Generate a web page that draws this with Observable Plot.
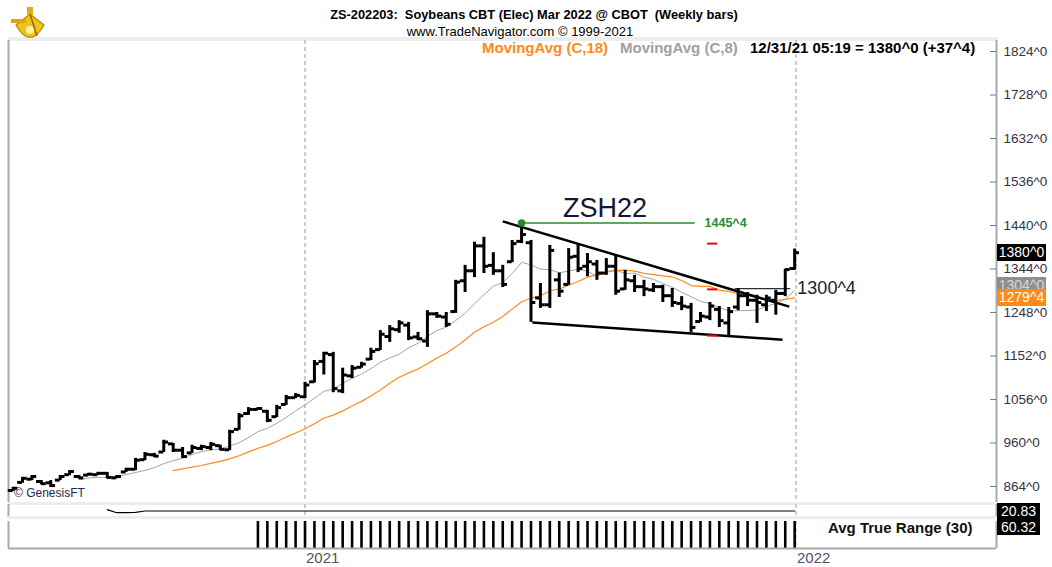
<!DOCTYPE html>
<html><head><meta charset="utf-8">
<script src="https://cdn.jsdelivr.net/npm/d3@7"></script>
<script src="https://cdn.jsdelivr.net/npm/@observablehq/plot@0.6"></script>
<style>
body{margin:0;background:#fff;font-family:"Liberation Sans",Arial,sans-serif;}
#wrap{position:relative;width:1052px;height:567px;overflow:hidden;background:#fff;}
.abs{position:absolute;white-space:pre;line-height:0;}
.lbl{position:absolute;white-space:pre;}
.tag{position:absolute;left:997px;width:49px;height:17px;line-height:17px;font-size:14px;text-align:center;color:#fff;}
</style></head><body><div id="wrap"></div>
<script>
// ---- weekly OHLC bars, ZSH22 (cents), week ending Fridays 2020-05-29 .. 2021-12-31
const firstFriday = "2020-05-29", endStop = "2022-01-01";
const opens = [855,873,880,875,872,878,890,886,889,890,
  893,883,896,902,923,934,940,958,944,938,
  948,950,954,945,990,1025,1034,1030,1018,1045,
  1060,1062,1095,1140,1155,1075,1108,1127,1145,1166,
  1195,1210,1220,1194,1185,1245,1238,1250,1318,1340,
  1395,1352,1340,1360,1405,1402,1280,1265,1320,1310,
  1372,1350,1355,1335,1350,1300,1318,1305,1298,1305,
  1285,1268,1260,1228,1238,1255,1225,1260,1285,1275,
  1265,1275,1290,1345];
const highs = [862,884,888,877,877,888,899,888,893,895,
  895,888,904,926,939,937,966,959,950,955,
  955,961,955,988,1025,1038,1038,1032,1043,1065,
  1069,1094,1142,1160,1160,1125,1131,1138,1169,1208,
  1219,1230,1226,1204,1252,1248,1248,1319,1352,1403,
  1414,1380,1352,1407,1445.5,1407,1312,1396,1335,1389,
  1400,1378,1363,1367,1374,1341,1330,1319,1312,1308,
  1301,1283,1268,1248,1270,1261,1259,1301,1292,1286,
  1286,1297,1343,1388];
const lows = [853,871,877,868,862,877,888,881,888,888,
  881,881,895,899,921,928,939,939,926,937,
  943,943,943,943,988,1021,1032,1005,1016,1043,
  1058,1058,1092,1110,1071,1069,1102,1125,1142,1164,
  1182,1202,1186,1186,1171,1235,1215,1246,1292,1325,
  1334,1330,1303,1358,1400,1226,1257,1257,1281,1308,
  1336,1327,1319,1330,1286,1297,1292,1283,1292,1270,
  1259,1252,1204,1226,1230,1215,1193,1252,1261,1224,
  1250,1242,1283,1341];
const closes = [860,882,886,870,866,886,897,883,891,893,
  884,886,902,922,935,931,962,944,930,950,
  952,957,946,985,1020,1034,1036,1010,1038,1060,
  1065,1088,1135,1158,1080,1110,1125,1134,1162,1200,
  1212,1225,1192,1190,1245,1240,1222,1315,1340,1395,
  1350,1340,1310,1400,1420,1270,1265,1385,1295,1370,
  1345,1360,1335,1350,1295,1320,1305,1300,1305,1285,
  1270,1262,1215,1240,1262,1230,1250,1285,1275,1270,
  1280,1290,1342.6,1380];

// upper indicator strip (starts at bar 10) and Avg True Range histogram (starts at bar 26)
const stripStart = 10;
const stripValues = [20.88,20.77,20.77,20.78,20.83,20.83,20.83,20.83,20.83,20.83,
  20.83,20.83,20.83,20.83,20.83,20.83,20.83,20.83,20.83,20.83,
  20.83,20.83,20.83,20.83,20.83,20.83,20.83,20.83,20.83,20.83,
  20.83,20.83,20.83,20.83,20.83,20.83,20.83,20.83,20.83,20.83,
  20.83,20.83,20.83,20.83,20.83,20.83,20.83,20.83,20.83,20.83,
  20.83,20.83,20.83,20.83,20.83,20.83,20.83,20.83,20.83,20.83,
  20.83,20.83,20.83,20.83,20.83,20.83,20.83,20.83,20.83,20.83,
  20.83,20.83,20.83,20.83];
const atrStart = 26;
const atrValues = [61.2,61.5,61.9,62.0,61.8,61.6,61.9,62.3,62.8,63.4,
  63.1,62.9,62.7,62.8,63.0,63.2,63.0,62.7,62.6,62.9,
  63.5,64.1,64.6,64.9,64.8,64.7,65.3,67.0,67.2,67.1,
  66.8,66.5,66.3,66.1,65.8,65.2,64.6,64.1,63.6,63.0,
  62.6,62.2,61.9,61.6,61.4,61.3,61.0,60.9,60.8,60.7,
  60.6,60.5,60.5,60.4,60.4,60.3,60.3,60.32];
const atrScaleMax = 60.32;

// axis ticks and year gridlines
const priceTicks = [864,960,1056,1152,1248,1344,1440,1536,1632,1728,1824];
const yearTicks = ["2021-01-01","2022-01-01"];

// annotations drawn on the chart
const trendLines = [
  {x1:"2021-05-28", y1:1449, x2:"2021-12-27", y2:1261},
  {x1:"2021-06-19", y1:1226, x2:"2021-12-22", y2:1188}
];
const peakLevel = [{date:"2021-06-11", end:"2021-10-18", value:1445.5, labelAt:"2021-10-25", label:"1445^4"}];
const breakLevel = [{start:"2021-11-17", end:"2021-12-28", value:1300.5, labelAt:"2022-01-02", label:"1300^4"}];
const redMarks = [{date:"2021-10-31", value:1400},{date:"2021-10-31", value:1299},{date:"2021-10-31", value:1197}];
const contractLabel = [{date:"2021-08-12", value:1478, text:"ZSH22"}];
const lastTags = [
  {value:1306, text:"1304^0", bg:"#8e8e8e"},
  {value:1279.4, text:"1279^4", bg:"#ff8a1a"},
  {value:1380, text:"1380^0", bg:"#000"}
];
const stripTag = "20.83", atrTag = "60.32";

// ---------------------------------------------------------------
const P = s => new Date(s + "T00:00:00Z");
const DAY = 864e5;
const shift = (d, days) => new Date(+d + days*DAY);
const dates = d3.utcFriday.range(P(firstFriday), P(endStop));
const bars = dates.map((d,i)=>({date:d, open:opens[i], high:highs[i], low:lows[i], close:closes[i]}));
const strip = stripValues.map((v,i)=>({date:dates[stripStart+i], value:v}));
const atr = atrValues.map((v,i)=>({date:dates[atrStart+i], value:v}));
const years = yearTicks.map(P);

const xDomain = [new Date(Date.UTC(2020,4,25,14)), new Date(Date.UTC(2022,4,30,1))];
const yDomain = [828.6, 1848.3];
const plotLeft = 8, plotRight = 996;
const pxPerDay = (plotRight-plotLeft)/((xDomain[1]-xDomain[0])/DAY);
const tickDays = 4.8/pxPerDay;
const innerTick = shift(xDomain[1], -6/pxPerDay);
const FONT = "'Liberation Sans', Arial, sans-serif";
const border = "#a9a9a9";

const xOpt = {type:"utc", domain:xDomain, axis:null};
const common = {width:1052, marginLeft:plotLeft, marginRight:1052-plotRight,
  style:{fontFamily:FONT, background:"transparent", overflow:"visible", display:"block"}};

const main = Plot.plot({
  ...common, height:502, marginTop:40, marginBottom:0,
  x: xOpt, y:{domain:yDomain, axis:null},
  marks:[
    Plot.ruleX(years, {x:d=>d, stroke:"#9a9a9a", strokeDasharray:"4,3"}),
    Plot.ruleX(xDomain, {x:d=>d, stroke:border, strokeWidth:2}),
    Plot.lineY(bars, Plot.windowY({k:8, anchor:"end", strict:true}, {x:"date", y:"close", stroke:"#a4a4a4", strokeWidth:1})),
    Plot.lineY(bars, Plot.windowY({k:18, anchor:"end", strict:true}, {x:"date", y:"close", stroke:"#ff8a1a", strokeWidth:1.2})),
    Plot.ruleX(bars, {x:"date", y1:"low", y2:"high", stroke:"#000", strokeWidth:3}),
    Plot.ruleY(bars, {x1:d=>shift(d.date,-tickDays), x2:"date", y:"open", stroke:"#000", strokeWidth:3}),
    Plot.ruleY(bars, {x1:"date", x2:d=>shift(d.date,tickDays), y:"close", stroke:"#000", strokeWidth:3}),
    Plot.link(trendLines, {x1:d=>P(d.x1), y1:"y1", x2:d=>P(d.x2), y2:"y2", stroke:"#000", strokeWidth:2.5}),
    Plot.ruleY(peakLevel, {x1:d=>P(d.date), x2:d=>P(d.end), y:"value", stroke:"#2a8a2a", strokeWidth:1.3}),
    Plot.dot(peakLevel, {x:d=>P(d.date), y:"value", r:3.8, fill:"#2a8a2a"}),
    Plot.text(peakLevel, {x:d=>P(d.labelAt), y:"value", text:"label", fill:"#2a8a2a", fontWeight:"bold", fontSize:12.5, textAnchor:"start"}),
    Plot.ruleY(redMarks, {x1:d=>shift(P(d.date),-3.7), x2:d=>shift(P(d.date),3.7), y:"value", stroke:"#e8000b", strokeWidth:2}),
    Plot.ruleY(breakLevel, {x1:d=>P(d.start), x2:d=>P(d.end), y:"value", stroke:"#000", strokeWidth:1}),
    Plot.text(breakLevel, {x:d=>P(d.labelAt), y:"value", text:"label", fill:"#222", fontSize:18, textAnchor:"start"}),
    Plot.text(contractLabel, {x:d=>P(d.date), y:"value", text:"text", fill:"#151535", fontSize:27}),
    Plot.ruleY(priceTicks, {y:d=>d, x1:innerTick, x2:xDomain[1], stroke:"#777"}),
    Plot.text(priceTicks, {y:d=>d, x:xDomain[1], text:d=>d+"^0", dx:7, textAnchor:"start", fontSize:13.5, fill:"#333344"})
  ]
});

const stripPlot = Plot.plot({
  ...common, height:13, marginTop:0, marginBottom:0,
  x: xOpt, y:{domain:[20.6,21.06], axis:null},
  marks:[
    Plot.ruleX(years, {x:d=>d, stroke:"#9a9a9a", strokeDasharray:"4,3"}),
    Plot.ruleX(xDomain, {x:d=>d, stroke:border, strokeWidth:2}),
    Plot.lineY(strip, {x:"date", y:"value", stroke:"#000", strokeWidth:1.2})
  ]
});

const atrPlot = Plot.plot({
  ...common, height:48, marginTop:2, marginBottom:19,
  x: xOpt, y:{domain:[0, atrScaleMax], axis:null},
  marks:[
    Plot.ruleX(years, {x:d=>d, stroke:"#9a9a9a", strokeDasharray:"4,3"}),
    Plot.ruleX(atr, {x:"date", y1:0, y2:"value", stroke:"#000", strokeWidth:2.6, clip:true}),
    Plot.ruleX(xDomain, {x:d=>d, y1:0, y2:atrScaleMax, stroke:border, strokeWidth:2}),
    Plot.ruleY([0], {x1:xDomain[0], x2:xDomain[1], stroke:border, strokeWidth:2}),
    Plot.text(years, {x:d=>d, frameAnchor:"bottom", dy:14, dx:1, text:d=>String(d.getUTCFullYear()), textAnchor:"start", fontSize:15, fill:"#4c5566"})
  ]
});

const wrap = document.getElementById("wrap");
function place(node, top, left){ const d = document.createElement("div"); d.className="abs"; d.style.top=top+"px"; d.style.left=(left||0)+"px"; d.appendChild(node); wrap.appendChild(d); return d; }
function band(top, h){ const d=document.createElement("div"); d.style.cssText=`position:absolute;left:8px;top:${top}px;width:990px;height:${h}px;background:#ededed`; wrap.appendChild(d); }
function label(text, css){ const d=document.createElement("div"); d.className="lbl"; d.textContent=text; d.style.cssText += css; wrap.appendChild(d); return d; }

band(37,4);
place(main, 0);
band(502,3);
place(stripPlot, 504);
band(516,3);
place(atrPlot, 519);

// logo
const logo = document.createElement("div");
logo.innerHTML = `<svg width="40" height="38" viewBox="0 0 40 38" style="display:block"><path d="M6 19 Q20 44 34 19 L20 8 Z" fill="#f0c21c" stroke="#b08800" stroke-width="1.2"/><rect x="17" y="1" width="6" height="9" fill="#e0b010"/><rect x="1" y="13" width="15" height="4" fill="#d8a80c"/><circle cx="20" cy="24" r="4" fill="#fff2a0"/><path d="M20 8 L27 30" stroke="#8a6a00" stroke-width="1.5"/></svg>`;
logo.style.cssText="position:absolute;left:10px;top:6px";
wrap.appendChild(logo);

// titles
label("ZS-202203:  Soybeans CBT (Elec) Mar 2022 @ CBOT  (Weekly bars)", "left:534px;top:7px;transform:translateX(-50%);font-weight:bold;font-size:12.8px;color:#000;");
label("www.TradeNavigator.com \u00a9 1999-2021", "left:520px;top:24px;transform:translateX(-50%);font-size:13px;color:#000;");
label("MovingAvg (C,18)", "left:482px;top:39px;font-weight:bold;font-size:15px;color:#ff8a1a;");
label("MovingAvg (C,8)", "left:620px;top:39px;font-weight:bold;font-size:15px;color:#a0a0a0;");
label("12/31/21 05:19 = 1380^0 (+37^4)", "left:750px;top:39px;font-weight:bold;font-size:15px;color:#000;");
label("\u00a9 GenesisFT", "left:14px;top:486px;font-size:12px;color:#1f2a44;");
label("Avg True Range (30)", "left:828px;top:519px;font-weight:bold;font-size:15px;color:#111;");

// right-edge value tags positioned with the chart's y scale
const ys = main.scale("y");
for (const t of lastTags){
  const d=document.createElement("div"); d.className="tag"; d.textContent=t.text;
  d.style.top=(ys.apply(t.value)-8.5)+"px"; d.style.background=t.bg;
  if (t.bg==="#8e8e8e") d.style.color="#d8d8d8";
  wrap.appendChild(d);
}
const s1=document.createElement("div"); s1.className="tag"; s1.textContent=stripTag; s1.style.cssText+="top:503px;width:43px;background:#000;height:16px;line-height:16px;"; wrap.appendChild(s1);
const s2=document.createElement("div"); s2.className="tag"; s2.textContent=atrTag; s2.style.cssText+="top:519px;width:43px;background:#000;height:16px;line-height:16px;"; wrap.appendChild(s2);
</script>
</body></html>
